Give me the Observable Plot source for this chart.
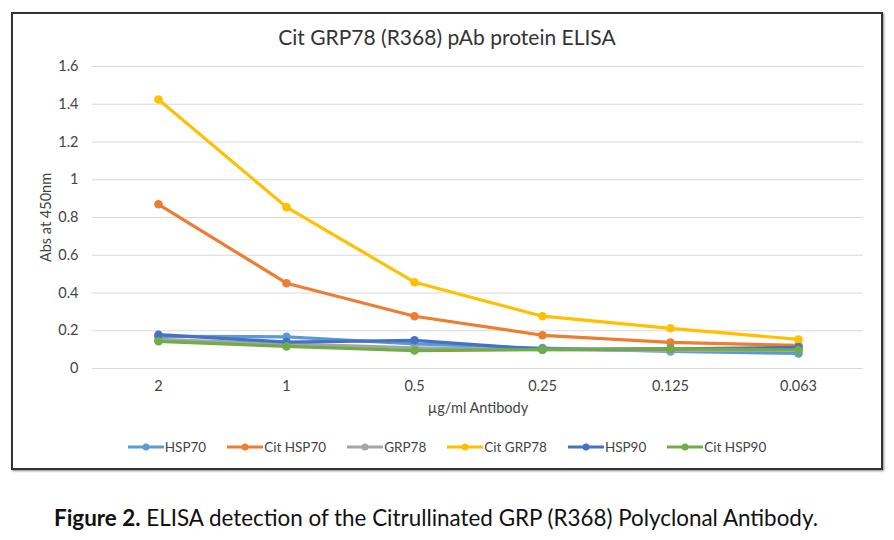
<!DOCTYPE html>
<html><head><meta charset="utf-8">
<script src="https://cdn.jsdelivr.net/npm/d3@7"></script>
<script src="https://cdn.jsdelivr.net/npm/@observablehq/plot@0.6"></script>
<style>
body{margin:0;background:#fff;width:894px;height:540px;position:relative;font-family:Lato,"Open Sans",sans-serif;overflow:hidden}
#frame{position:absolute;left:11px;top:12px;width:868px;height:454px;border:2px solid #333;box-shadow:1px 1px 2px #888}
#title{position:absolute;left:0;top:10px;width:100%;text-align:center;font-size:21px;color:#333}
#chart{position:absolute;left:1px;top:36px}
#legend{position:absolute;left:0;top:425px;width:100%;display:flex;justify-content:center;gap:21px;font-size:13.5px;color:#444}
#legend span{display:flex;align-items:center}
#legend svg{margin-right:1px}
#caption{position:absolute;left:-11px;top:504px;width:894px;text-align:center;font-size:22.4px;color:#111}
</style></head><body>
<div id="frame"><div id="title">Cit GRP78 (R368) pAb protein ELISA</div><div id="chart"></div><div id="legend"></div></div>
<div id="caption"><b>Figure 2.</b> ELISA detection of the Citrullinated GRP (R368) Polyclonal Antibody.</div>
<script>
const categories = ["2","1","0.5","0.25","0.125","0.063"];
const seriesNames = ["HSP70","Cit HSP70","GRP78","Cit GRP78","HSP90","Cit HSP90"];
const seriesColors = ["#5B9BD5","#ED7D31","#A5A5A5","#FFC000","#4472C4","#70AD47"];
const hsp70 = [0.170,0.168,0.130,0.108,0.090,0.080];
const citHsp70 = [0.870,0.452,0.277,0.176,0.138,0.122];
const grp78 = [0.155,0.130,0.110,0.100,0.095,0.098];
const citGrp78 = [1.425,0.855,0.457,0.277,0.213,0.154];
const hsp90 = [0.179,0.140,0.149,0.101,0.104,0.112];
const citHsp90 = [0.144,0.117,0.095,0.100,0.105,0.098];
const yTicks = [0,0.2,0.4,0.6,0.8,1,1.2,1.4,1.6];

const values = [hsp70,citHsp70,grp78,citGrp78,hsp90,citHsp90];
const data = [];
seriesNames.forEach((s,i)=>categories.forEach((c,j)=>data.push({series:s,cat:c,v:values[i][j]})));

const chart = Plot.plot({
  width:866, height:372,
  marginLeft:78, marginRight:17, marginTop:16, marginBottom:54,
  style:{fontFamily:"Lato, 'Open Sans', sans-serif", fontSize:"13px", color:"#444"},
  x:{type:"point", domain:categories, padding:0.5, label:"µg/ml Antibody", labelArrow:"none", labelAnchor:"center", labelOffset:44, tickSize:0, tickPadding:12},
  y:{domain:[0,1.6], ticks:yTicks, tickFormat:d=>String(d), label:"Abs at 450nm", labelArrow:"none", labelAnchor:"center", labelOffset:52, tickSize:0, tickPadding:14},
  color:{domain:seriesNames, range:seriesColors},
  marks:[
    Plot.gridY(yTicks,{stroke:"#d9d9d9", strokeOpacity:1, strokeWidth:1}),
    Plot.line(data,{x:"cat", y:"v", stroke:"series", z:"series", strokeWidth:3.2}),
    Plot.dot(data,{x:"cat", y:"v", fill:"series", r:4.3})
  ]
});
chart.querySelectorAll("g[aria-label$='label'] text").forEach(t=>t.style.fontSize="14.5px");
document.getElementById("chart").appendChild(chart);

const lg = document.getElementById("legend");
seriesNames.forEach((s,i)=>{
  const el = document.createElement("span");
  el.innerHTML = `<svg width="36" height="10"><line x1="0" y1="5" x2="36" y2="5" stroke="${seriesColors[i]}" stroke-width="3"/><circle cx="18" cy="5" r="3.5" fill="${seriesColors[i]}"/></svg>${s}`;
  lg.appendChild(el);
});
</script>
</body></html>
